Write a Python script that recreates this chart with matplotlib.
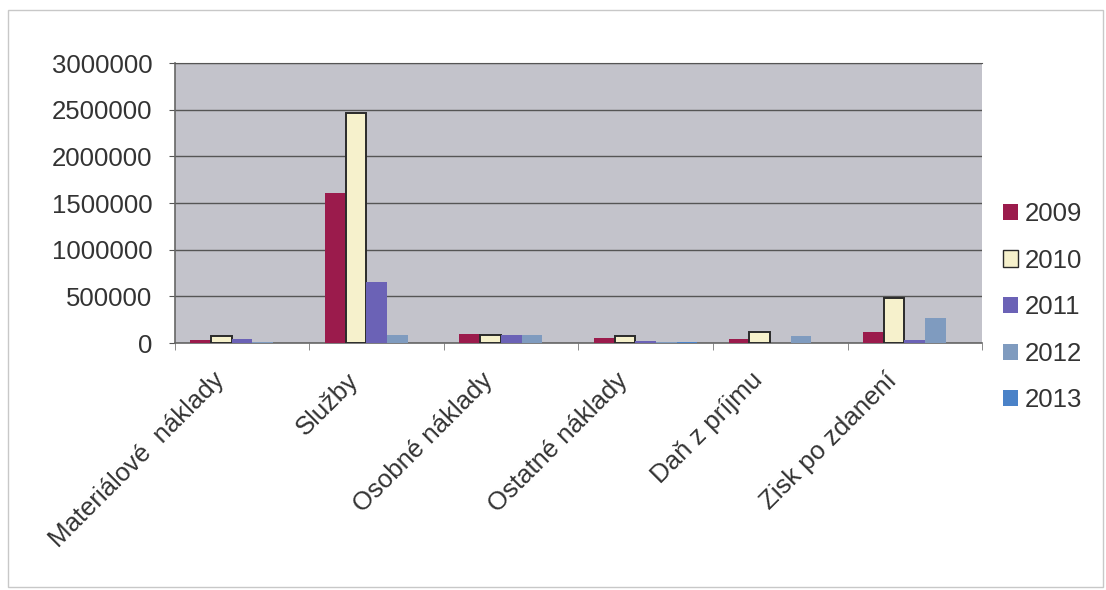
import matplotlib
matplotlib.use("Agg")
import matplotlib.pyplot as plt
import matplotlib.transforms as mtransforms
import numpy as np
from matplotlib.patches import Rectangle

categories = ["Materiálové  náklady", "Služby", "Osobné náklady",
              "Ostatné náklady", "Daň z príjmu", "Zisk po zdanení"]
years = ["2009", "2010", "2011", "2012", "2013"]
v2009 = [35000, 1610000, 95000, 55000, 40000, 120000]
v2010 = [70000, 2470000, 90000, 75000, 120000, 480000]
v2011 = [40000, 650000, 85000, 20000, 5000, 30000]
v2012 = [10000, 85000, 85000, 15000, 70000, 265000]
v2013 = [5000, 0, 0, 10000, 0, 0]
series = [v2009, v2010, v2011, v2012, v2013]
colors = ["#9b1b4c", "#f6f1cc", "#6b62b6", "#7f9bbf", "#4a82c8"]
edges = ["none", "#2a2a2a", "none", "none", "none"]
yticks = [0, 500000, 1000000, 1500000, 2000000, 2500000, 3000000]

plt.rcParams['font.family'] = ['Liberation Sans', 'DejaVu Sans']
fig = plt.figure(figsize=(11.06, 5.9), dpi=100)
fig.patch.set_facecolor("white")
fig.patches.append(Rectangle((0.007, 0.005), 0.99, 0.978, transform=fig.transFigure,
                             fill=False, edgecolor="#c8c8c8", linewidth=1.0))
ax = fig.add_axes([0.158, 0.4186, 0.730, 0.4745])
ax.set_facecolor("#c3c3cb")

n = len(categories)
x = np.arange(n)
gap = 1.5
w = 1.0 / (len(years) + gap)
for i, (vals, c, e, yr) in enumerate(zip(series, colors, edges, years)):
    off = (i - (len(years) - 1) / 2) * w
    ax.bar(x + off, vals, width=w, color=c, edgecolor=e,
           linewidth=1.4 if e != "none" else 0, label=yr, zorder=3)

ax.set_xlim(-0.5, n - 0.5)
ax.set_ylim(0, 3000000)
ax.set_yticks(yticks)
ax.set_yticklabels([str(t) for t in yticks], fontsize=18.5, color="#333333")
ax.yaxis.grid(True, color="#555555", linewidth=1.0, zorder=1)
ax.set_axisbelow(True)
ax.tick_params(axis="y", length=4, color="#555555", pad=12)

ax.set_xticks(x)
ax.set_xticklabels(categories, rotation=45, ha="right", rotation_mode="anchor",
                   fontsize=18.5, color="#333333")
ax.tick_params(axis="x", which="major", length=0, pad=18)
shift = mtransforms.ScaledTranslation(-30 / 100, 0, fig.dpi_scale_trans)
for lab in ax.get_xticklabels():
    lab.set_transform(lab.get_transform() + shift)
ax.set_xticks(np.arange(-0.5, n, 1.0), minor=True)
ax.tick_params(axis="x", which="minor", length=5, color="#777777")

for s in ["left", "bottom"]:
    ax.spines[s].set_color("#666666")
    ax.spines[s].set_linewidth(1.2)
ax.spines["top"].set_color("#555555")
ax.spines["right"].set_visible(False)

leg = fig.legend(loc="upper left", bbox_to_anchor=(0.886, 0.697), frameon=False,
                 fontsize=18.5, handlelength=0.6, handleheight=0.6, handletextpad=0.25,
                 labelspacing=0.88, labelcolor="#333333")
for h in leg.legend_handles:
    h.set_linewidth(1.0)

fig.savefig("out.png", dpi=100, facecolor="white")
